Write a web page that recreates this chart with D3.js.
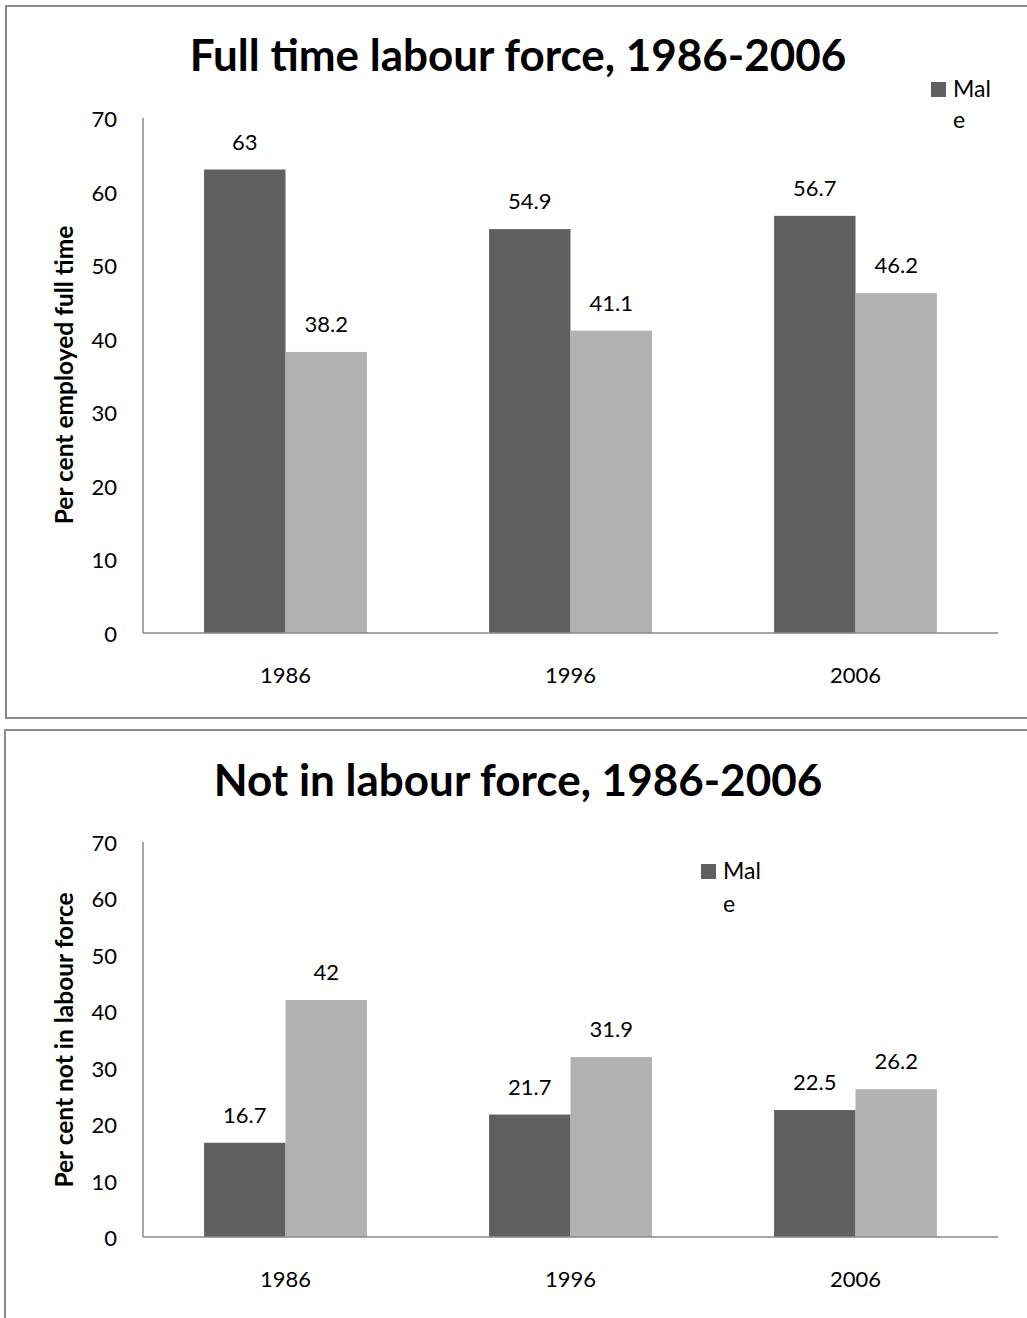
<!DOCTYPE html>
<html>
<head>
<meta charset="utf-8">
<script src="https://cdn.jsdelivr.net/npm/d3@7"></script>
<style>
  body { margin: 0; background: #fff; }
  text { font-family: Lato, "Open Sans", sans-serif; }
</style>
</head>
<body>
<svg id="chart" width="1027" height="1318"></svg>
<script>
const years = ['1986', '1996', '2006'];
const fullMale = [63, 54.9, 56.7];
const fullFemale = [38.2, 41.1, 46.2];
const notMale = [16.7, 21.7, 22.5];
const notFemale = [42, 31.9, 26.2];
const yTicks = [0, 10, 20, 30, 40, 50, 60, 70];

const maleColor = '#606060';
const femaleColor = '#b2b2b2';
const lineColor = '#898989';

const svg = d3.select('#chart');

// panel frames (right side runs off the image)
svg.append('path')
  .attr('d', 'M1030,6 L6,6 L6,718 L1030,718')
  .attr('fill', 'none').attr('stroke', lineColor).attr('stroke-width', 2);
svg.append('path')
  .attr('d', 'M1030,730 L5,730 L5,1320')
  .attr('fill', 'none').attr('stroke', lineColor).attr('stroke-width', 2);

function drawPanel(cfg) {
  const g = svg.append('g');
  const x = d3.scaleBand().domain(years).range([143, 998]).paddingInner(0).paddingOuter(0);
  const y = d3.scaleLinear().domain([0, 70]).range([cfg.bottom, cfg.top]);
  const inner = d3.scaleBand().domain(['m', 'f']).range([0, x.bandwidth()]).paddingOuter(0.75).paddingInner(0);

  g.append('text')
    .attr('x', 518).attr('y', cfg.titleY)
    .attr('text-anchor', 'middle')
    .style('font-size', '44px').style('font-weight', 'bold')
    .text(cfg.title);

  g.append('text')
    .attr('transform', 'translate(73,' + cfg.ylabelY + ') rotate(-90)')
    .attr('text-anchor', 'middle')
    .style('font-size', '24.5px').style('font-weight', 'bold')
    .text(cfg.ylabel);

  g.selectAll('.ytick').data(yTicks).enter().append('text')
    .attr('x', 117).attr('y', d => y(d) + 9)
    .attr('text-anchor', 'end')
    .style('font-size', '22px')
    .text(d => d);

  const rows = years.map((yr, i) => ({ yr, m: cfg.male[i], f: cfg.female[i] }));
  const grp = g.selectAll('.grp').data(rows).enter().append('g')
    .attr('transform', d => 'translate(' + x(d.yr) + ',0)');

  [['m', maleColor], ['f', femaleColor]].forEach(([k, col]) => {
    grp.append('rect')
      .attr('x', inner(k))
      .attr('y', d => y(d[k]))
      .attr('width', inner.bandwidth())
      .attr('height', d => cfg.bottom - y(d[k]))
      .attr('fill', col);
    grp.append('text')
      .attr('x', inner(k) + inner.bandwidth() / 2)
      .attr('y', d => y(d[k]) - 20)
      .attr('text-anchor', 'middle')
      .style('font-size', '22px')
      .text(d => d[k]);
  });

  g.append('line').attr('x1', 143).attr('x2', 143).attr('y1', cfg.top).attr('y2', cfg.bottom)
    .attr('stroke', lineColor).attr('stroke-width', 1.5);
  g.append('line').attr('x1', 143).attr('x2', 998).attr('y1', cfg.bottom).attr('y2', cfg.bottom)
    .attr('stroke', lineColor).attr('stroke-width', 1.5);

  g.selectAll('.xlab').data(years).enter().append('text')
    .attr('x', d => x(d) + x.bandwidth() / 2)
    .attr('y', cfg.bottom + 50)
    .attr('text-anchor', 'middle')
    .style('font-size', '22px')
    .text(d => d);

  // legend (only Male shown, wrapped)
  g.append('rect').attr('x', cfg.legX).attr('y', cfg.legY).attr('width', 15).attr('height', 15).attr('fill', maleColor);
  g.append('text').attr('x', cfg.legX + 22).attr('y', cfg.legY + 15).style('font-size', '23px').text('Mal');
  g.append('text').attr('x', cfg.legX + 22).attr('y', cfg.legY + cfg.legGap).style('font-size', '23px').text('e');
}

drawPanel({
  title: 'Full time labour force, 1986-2006',
  ylabel: 'Per cent employed full time',
  male: fullMale, female: fullFemale,
  top: 118, bottom: 633, titleY: 71, ylabelY: 375,
  legX: 931, legY: 82, legGap: 46
});

drawPanel({
  title: 'Not in labour force, 1986-2006',
  ylabel: 'Per cent not in labour force',
  male: notMale, female: notFemale,
  top: 842, bottom: 1237, titleY: 796, ylabelY: 1040,
  legX: 701, legY: 864, legGap: 48
});
</script>
</body>
</html>
